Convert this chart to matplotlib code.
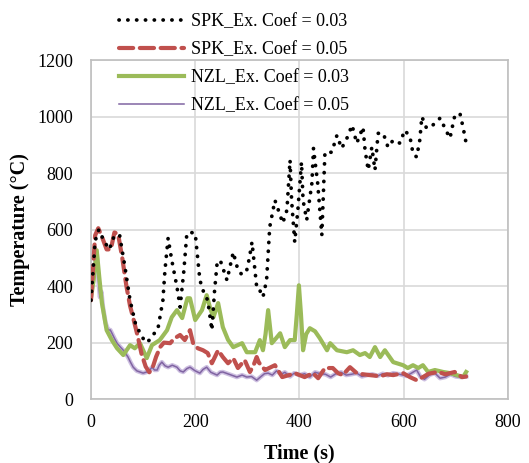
import matplotlib
matplotlib.use('Agg')
import matplotlib.pyplot as plt
from matplotlib.ticker import MultipleLocator

# ----- data ----- #
t_spk03 = [0, 8, 15, 25, 35, 45, 55, 65, 75, 85, 95, 105, 113, 120, 128, 138, 142, 148, 155, 165,
           171, 178, 184, 192, 200, 209, 216, 224, 232, 237, 242, 248, 261, 273, 282, 290, 299, 304, 309, 318,
           321, 330, 337, 343, 353, 363, 368, 376, 382, 385, 391, 397, 404, 407, 414, 424, 427, 435,
           443, 449, 462, 472, 481, 491, 501, 510, 522, 526, 532, 539, 545, 551, 561, 570, 580, 593,
           602, 612, 618, 625, 631, 635, 644, 656, 670, 683, 689, 695, 698, 708, 714, 720]
T_spk03 = [350, 560, 600, 560, 530, 580, 580, 470, 350, 270, 230, 200, 210, 230, 244, 350, 457, 570, 492, 397,
           326, 450, 587, 590, 587, 421, 380, 350, 244, 380, 481, 492, 421, 520, 457, 440, 457, 500, 556, 397,
           397, 361, 421, 609, 704, 651, 623, 669, 846, 704, 556, 669, 839, 704, 634, 765, 888, 765,
           581, 874, 874, 934, 888, 923, 970, 906, 963, 881, 811, 892, 811, 941, 941, 892, 917, 906,
           952, 930, 870, 857, 917, 1000, 959, 970, 995, 945, 924, 977, 1002, 1012, 963, 906]

t_spk05 = [0, 8, 14, 22, 30, 38, 45, 52, 60, 68, 75, 82, 90, 97, 105, 112, 118, 125, 133, 140,
           152, 160, 171, 180, 190, 196, 205, 215, 224, 232, 244, 253, 263, 273, 282, 295, 305, 312, 318, 322,
           334, 353, 367, 380, 391, 410, 426, 436, 449, 464, 474, 483, 497, 510, 522, 535, 555, 568,
           580, 599, 612, 625, 637, 648, 666, 680, 698, 712, 720]
T_spk05 = [350, 580, 605, 570, 530, 530, 590, 585, 500, 400, 330, 280, 220, 160, 115, 95, 110, 150, 185, 200,
           198, 215, 227, 209, 244, 198, 180, 173, 163, 127, 173, 149, 127, 145, 110, 138, 96, 120, 149, 130,
           103, 120, 78, 85, 92, 78, 92, 74, 110, 110, 92, 85, 113, 92, 88, 85, 81, 88,
           85, 92, 78, 67, 78, 90, 96, 88, 96, 78, 80]

t_nzl03 = [0, 5, 11, 16, 21, 30, 40, 50, 62, 75, 84, 94, 107, 117, 132, 146, 155, 165, 175, 185,
           190, 200, 213, 222, 229, 235, 244, 253, 263, 273, 290, 299, 315, 324, 330, 335, 340, 347, 355, 363,
           372, 382, 391, 395, 399, 403, 407, 413, 420, 430, 439, 453, 459, 472, 491, 503, 516, 526,
           535, 545, 555, 564, 580, 599, 608, 618, 628, 637, 647, 660, 676, 689, 702, 714, 720]
T_nzl03 = [360, 420, 527, 430, 340, 244, 209, 180, 156, 191, 180, 198, 145, 191, 209, 244, 290, 315, 287, 357,
           357, 280, 315, 368, 320, 290, 340, 255, 210, 184, 198, 166, 166, 209, 173, 230, 315, 198, 215, 233,
           184, 209, 209, 300, 403, 300, 173, 230, 251, 240, 216, 173, 198, 173, 166, 173, 156, 163,
           149, 184, 149, 173, 131, 120, 110, 120, 110, 120, 96, 103, 96, 92, 85, 78, 96]

t_nzl05 = [0, 6, 11, 14, 17, 20, 23, 28, 33, 37, 40, 45, 50, 56, 62, 67, 71, 76, 81, 88,
           94, 100, 107, 112, 117, 122, 127, 131, 136, 142, 148, 156, 165, 171, 177, 184, 190, 200, 209, 215,
           222, 230, 242, 248, 253, 265, 280, 290, 299, 308, 318, 325, 333, 340, 348, 356, 365, 372,
           382, 390, 400, 410, 420, 430, 440, 450, 460, 470, 480, 490, 500, 510, 520, 530, 540, 550,
           560, 570, 580, 592, 605, 615, 625, 632, 640, 650, 660, 670, 680, 690, 700, 710, 720]
T_nzl05 = [361, 450, 516, 430, 361, 380, 326, 270, 244, 245, 234, 215, 198, 185, 173, 160, 149, 130, 113, 100,
           96, 92, 96, 100, 113, 103, 103, 120, 131, 118, 113, 120, 113, 100, 96, 108, 113, 100, 92, 105,
           113, 95, 85, 95, 96, 88, 78, 85, 78, 80, 67, 78, 90, 92, 85, 100, 88, 95,
           80, 92, 85, 90, 78, 95, 90, 88, 78, 90, 95, 85, 88, 92, 80, 85, 88, 82,
           90, 84, 92, 88, 82, 92, 103, 80, 70, 86, 92, 74, 78, 88, 80, 78, 80]

labels = ['SPK_Ex. Coef = 0.03', 'SPK_Ex. Coef = 0.05', 'NZL_Ex. Coef = 0.03', 'NZL_Ex. Coef = 0.05']

plt.rcParams['font.family'] = ['Liberation Serif', 'DejaVu Serif']

fig = plt.figure(figsize=(5.29, 4.63), dpi=100)
ax = fig.add_axes([0.172, 0.138, 0.788, 0.732])

ax.plot(t_spk03, T_spk03, color='black', lw=2.7, linestyle=(0, (0.05, 2.3)),
        dash_capstyle='round', label=labels[0], zorder=4)
ax.plot(t_spk05, T_spk05, color='#C0504D', lw=3.0, linestyle=(0, (3.4, 1.6)),
        dash_capstyle='round', label=labels[1], zorder=3)
ax.plot(t_nzl03, T_nzl03, color='#9BBB59', lw=3.0, solid_joinstyle='round',
        label=labels[2], zorder=2)
# purple line with light glow underneath
ax.plot(t_nzl05, T_nzl05, color='#CDBFE0', lw=3.2, zorder=1)
ax.plot(t_nzl05, T_nzl05, color='#8064A2', lw=1.1, label=labels[3], zorder=1)

ax.set_xlim(0, 800)
ax.set_ylim(0, 1200)
ax.xaxis.set_major_locator(MultipleLocator(200))
ax.yaxis.set_major_locator(MultipleLocator(200))
ax.grid(True, color='#D9D9D9', lw=1.2)
ax.set_axisbelow(True)
for s in ax.spines.values():
    s.set_color('#BFBFBF')
    s.set_linewidth(1.2)
ax.tick_params(axis='y', length=0, labelsize=13, pad=13)
ax.tick_params(axis='x', length=0, labelsize=13, pad=11)

ax.set_xlabel('Time (s)', fontsize=14.5, fontweight='bold', labelpad=9)
ax.set_ylabel('Temperature (°C)', fontsize=14.5, fontweight='bold', labelpad=5)

leg = fig.legend(loc='upper left', bbox_to_anchor=(0.194, 1.007), frameon=False,
                 fontsize=13, handlelength=3.6, labelspacing=0.62, handletextpad=0.4)

fig.savefig('out.png', dpi=100)
